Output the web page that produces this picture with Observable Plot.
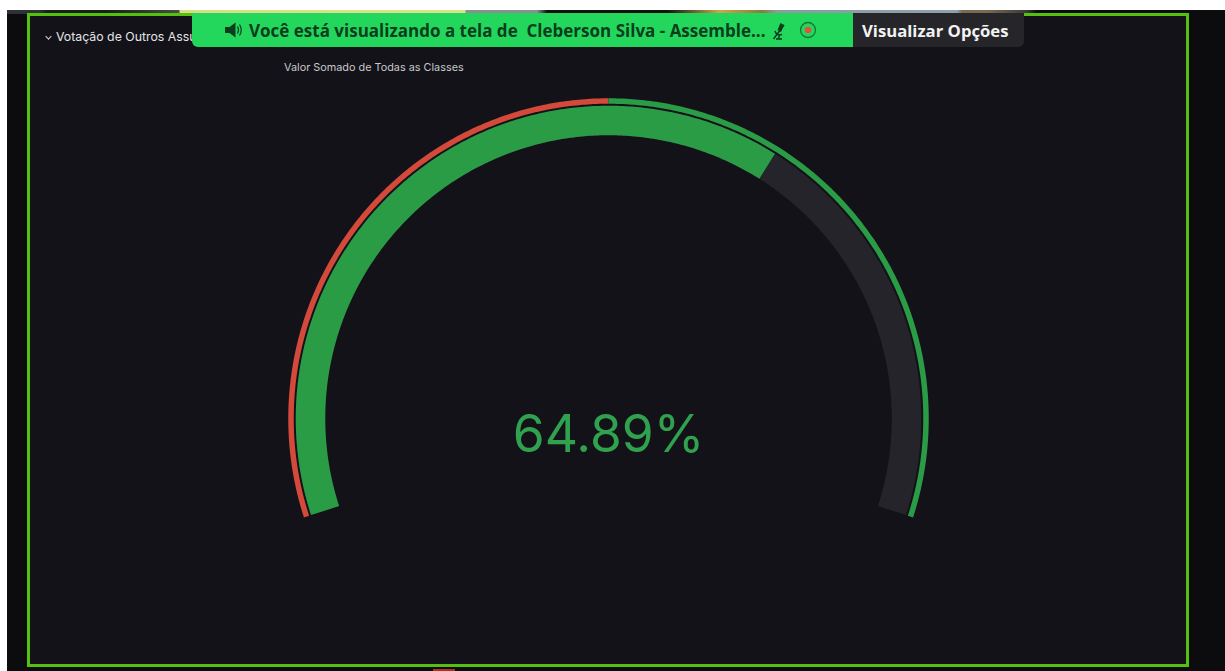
<!DOCTYPE html>
<html lang="pt">
<head>
<meta charset="utf-8">
<script src="https://cdn.jsdelivr.net/npm/d3@7"></script>
<script src="https://cdn.jsdelivr.net/npm/@observablehq/plot@0.6"></script>
<style>
html,body{margin:0;padding:0;width:1225px;height:671px;overflow:hidden;background:#fff;font-family:Inter,Roboto,sans-serif}
#stage{position:relative;width:1225px;height:671px;overflow:hidden}
#screen{position:absolute;left:7px;top:10px;right:0;bottom:0;background:#0c0c0e}
#strip{position:absolute;left:7px;top:10px;width:1218px;height:4px;background:linear-gradient(90deg,#2d3138 0,#2d3138 33px,#1a2018 40px,#1a2018 100px,#4a4d44 172px,#d9dc86 173px,#dfe08c 458px,#8a8f92 459px,#8a8f92 530px,#111 540px,#111 660px,#c9a84e 713px,#8a7a40 755px,#8f9aa0 770px,#8da0b0 950px,#7a6a50 955px,#7a6a50 980px,#3a3a3a 1020px,#0c0c0e 1030px)}
#panel{position:absolute;left:27px;top:13px;width:1156px;height:648px;border:3px solid #55c010;background:#131219}
#svgwrap{position:absolute;left:0;top:0}
.t{position:absolute;white-space:nowrap}
#row{left:56px;top:29px;font-size:12.3px;color:#e4e5e6;font-family:Inter,sans-serif}
#chev{left:46px;top:34px;width:4px;height:4px;border-right:1px solid #d8d9da;border-bottom:1px solid #d8d9da;transform:rotate(45deg) scale(.9)}
#sub{left:284px;top:60px;font-size:10.85px;color:#c7c8ca}
#banner{position:absolute;left:192px;top:13px;width:661px;height:34px;background:#22d75b;border-radius:3px 0 0 6px;color:#0b3d1e;font:700 17px "Open Sans",sans-serif;line-height:35px}
#banner span{position:absolute;top:0;white-space:pre}
#options{position:absolute;left:853px;top:13px;width:171px;height:34px;background:#26262a;border-radius:0 0 6px 0;color:#f3f3f3;font:700 16.7px "Open Sans",sans-serif;line-height:35px;text-indent:9px}
#smudge{position:absolute;left:433px;top:669px;width:22px;height:2px;background:#b5301f}
#banner svg{position:absolute}
</style>
</head>
<body>
<div id="stage">
  <div id="screen"></div>
  <div id="strip"></div>
  <div id="panel"></div>
  <div id="smudge"></div>
  <div id="svgwrap"></div>
  <div class="t" id="chev"></div>
  <div class="t" id="row">Votação de Outros Assuntos</div>
  <div class="t" id="sub">Valor Somado de Todas as Classes</div>
  <div id="banner">
    <svg style="left:33px;top:9px" width="19" height="16" viewBox="0 0 19 16"><path d="M0 5h4.500l6-4.500v15l-6-4.500H0z" fill="#0b3d1e"/><path d="M12.500 4.500q2 3.500 0 7M14.500 2.500q3.500 5.500 0 11" stroke="#0b3d1e" stroke-width="1.200" fill="none"/></svg>
    <span style="left:57px">Você está visualizando a tela de  Cleberson Silva - Assemble...</span>
    <svg style="left:579px;top:9px" width="17" height="18" viewBox="0 0 17 18"><path d="M9.500 1l3.500 2-3 7-3.500-2z" fill="#0b3d1e"/><path d="M4 9q1.500 5 7 3.500M8 13v3.500M5 17h6M2.500 17L13 3" stroke="#0b3d1e" stroke-width="1.500" fill="none"/></svg>
    <svg style="left:607px;top:8px" width="18" height="18" viewBox="0 0 18 18"><circle cx="9" cy="9" r="7.500" fill="none" stroke="#0f7a3a" stroke-width="1.300"/><circle cx="9" cy="9" r="3.300" fill="#e8503c"/></svg>
  </div>
  <div id="options">Visualizar Opções</div>
</div>
<script>
// Chart values
const gaugeValue = [64.89];
const valueLabel = ["64.89%"];
const thresholdStops = [0, 50, 100];
const thresholdColors = ["#d44a3a", "#2a9c46"];
const trackColor = "#25242b";
const sweepDegrees = [-108, 108];   // gauge opens 216 degrees
const radii = {band: 317.5, main: 298};

const angle = d3.scaleLinear([0, 100], sweepDegrees);
function arc(from, to, r) {
  const n = Math.ceil((to - from) * 4) + 1;
  return d3.range(n + 1).map(i => {
    const p = from + (to - from) * i / n;
    const a = angle(p) * Math.PI / 180;
    return {x: r * Math.sin(a), y: r * Math.cos(a)};
  });
}
const line = (pts, stroke, strokeWidth) =>
  Plot.line(pts, {x: "x", y: "y", stroke: () => stroke, strokeWidth, strokeLinecap: "butt", strokeLinejoin: "round", curve: "linear"});

const thresholdMarks = thresholdColors.map((c, i) =>
  line(arc(thresholdStops[i], thresholdStops[i + 1], radii.band), c, 5.5));

const chart = Plot.plot({
  width: 1225, height: 671,
  margin: 0,
  style: {background: "transparent", overflow: "visible"},
  color: {type: "identity"},
  x: {domain: [-608, 617], axis: null},
  y: {domain: [-253, 418], axis: null},
  marks: [
    ...thresholdMarks,
    line(arc(0, 100, radii.main), trackColor, 29.5),
    line(arc(0, gaugeValue[0], radii.main), thresholdColors[1], 29.5),
    Plot.text(valueLabel, {
      x: () => 0, y: () => 0, dy: 17,
      text: d => d,
      fill: "#30a14e",
      fontSize: 51.5,
      fontFamily: "Inter, sans-serif",
      fontWeight: 400,
      textAnchor: "middle"
    })
  ]
});
document.getElementById("svgwrap").appendChild(chart);
</script>
</body>
</html>
